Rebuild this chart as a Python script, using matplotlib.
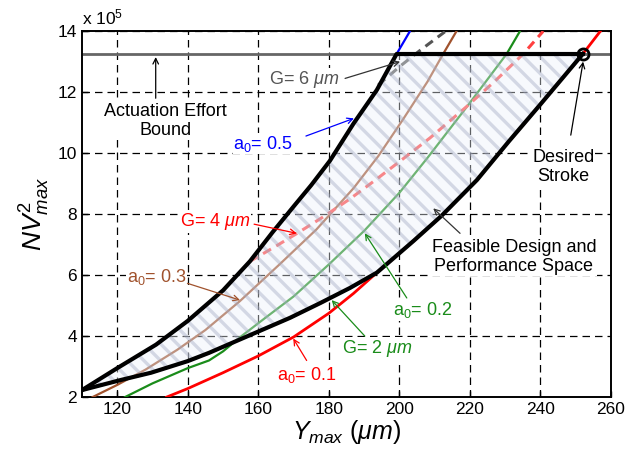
import numpy as np
import matplotlib
matplotlib.use("Agg")
import matplotlib.pyplot as plt
from matplotlib.patches import Polygon

plt.rcParams['font.family'] = ['Liberation Sans', 'DejaVu Sans']
plt.rcParams['mathtext.fontset'] = 'custom'
plt.rcParams['mathtext.rm'] = 'Liberation Sans'
plt.rcParams['mathtext.it'] = 'Liberation Sans:italic'
plt.rcParams['hatch.linewidth'] = 2.4

# ---- data (y values in units of 1e5) ----
a01_x = [134, 140, 150, 160, 170, 180, 187, 193.6, 204, 212, 222, 231, 240, 252, 257]
a01_y = [2.0, 2.28, 2.8, 3.35, 3.97, 4.75, 5.4, 6.08, 7.12, 7.95, 9.12, 10.38, 11.6, 13.25, 14.0]

a02_x = [122.2, 130, 140, 146, 150, 155, 162, 170, 180, 190, 200, 208, 219, 230.4, 234.2]
a02_y = [2.0, 2.45, 2.95, 3.2, 3.5, 3.98, 4.6, 5.3, 6.35, 7.45, 8.7, 9.85, 11.5, 13.25, 14.0]

a03_x = [113, 120, 128, 137, 145, 154.8, 166, 176.5, 187, 194, 201, 208, 212.4, 216.2]
a03_y = [2.0, 2.4, 2.9, 3.55, 4.2, 5.15, 6.35, 7.5, 8.85, 9.9, 11.1, 12.35, 13.25, 14.0]

a05_x = [110, 120, 131, 140, 150, 157.6, 164, 170, 175, 180.3, 187, 193.6, 199.2, 203]
a05_y = [2.23, 2.95, 3.72, 4.5, 5.5, 6.45, 7.4, 8.25, 8.95, 9.75, 10.97, 12.07, 13.25, 14.0]

g2_x = [110, 121, 129.6, 140, 146, 153, 160, 169, 177.5, 186, 193.6]
g2_y = [2.23, 2.56, 2.8, 3.18, 3.45, 3.8, 4.15, 4.6, 5.08, 5.58, 6.08]

g4_x = [157.6, 165, 171, 178.4, 186, 193, 200, 208.7, 219, 227, 235.1, 240.8]
g4_y = [6.45, 6.95, 7.37, 7.91, 8.5, 9.1, 9.72, 10.5, 11.52, 12.35, 13.25, 14.0]

g6_x = [194, 200.2, 206, 212.9]
g6_y = [12.23, 12.85, 13.38, 13.98]

effort_bound = 13.25
stroke_x = 252
x_ticks = [120, 140, 160, 180, 200, 220, 240, 260]
y_ticks = [2, 4, 6, 8, 10, 12, 14]

# ---- figure ----
fig = plt.figure(figsize=(6.26, 4.58), dpi=100)
ax = fig.add_axes([0.131, 0.133, 0.845, 0.799])

ax.set_xlim(110, 260)
ax.set_ylim(2, 14)
ax.set_xticks(x_ticks)
ax.set_yticks(y_ticks)
ax.tick_params(labelsize=12.5, direction='in', length=4, width=1)
ax.grid(True, color='k', linestyle=(0, (6, 4)), linewidth=0.9)
ax.set_axisbelow(True)
for s in ax.spines.values():
    s.set_linewidth(1.4)

ax.axhline(effort_bound, color='#666666', lw=2, zorder=2)

ax.plot(a01_x, a01_y, color='#ff0000', lw=2, zorder=3)
ax.plot(a02_x, a02_y, color='#1a8c1a', lw=1.6, zorder=3)
ax.plot(a03_x, a03_y, color='#a0522d', lw=1.6, zorder=3)
ax.plot(a05_x, a05_y, color='#0000ff', lw=1.6, zorder=3)
ax.plot(g2_x, g2_y, color='#1a8c1a', lw=2, ls=(0, (3, 2)), zorder=3)
ax.plot(g4_x, g4_y, color='#ff4040', lw=2.2, ls=(0, (3, 2)), zorder=3)
ax.plot(g6_x, g6_y, color='#555555', lw=2.2, ls=(0, (3, 2)), zorder=3)

# feasible region: upper = a0=0.5 up to bound, top = bound, lower = G=2 then a0=0.1
up_x = [x for x in a05_x if x <= 199.2]
up_y = a05_y[:len(up_x)]
lo_x = list(g2_x) + [x for x in a01_x if 193.6 < x <= stroke_x]
lo_y = list(g2_y) + [y for x, y in zip(a01_x, a01_y) if 193.6 < x <= stroke_x]
poly = list(zip(up_x, up_y)) + [(stroke_x, effort_bound)] + list(zip(lo_x[::-1], lo_y[::-1]))
ax.add_patch(Polygon(poly, closed=True, facecolor=(0.93, 0.95, 0.98, 0.4),
                     edgecolor=(0.62, 0.65, 0.75, 0.4), hatch='\\\\', lw=0, zorder=4))

ax.plot(up_x + [stroke_x], up_y + [effort_bound], color='k', lw=3, zorder=5)
ax.plot(lo_x, lo_y, color='k', lw=3, zorder=5)
ax.plot([stroke_x], [effort_bound], 'o', mfc='none', mec='k', mew=2, ms=8, zorder=6)

# ---- annotations ----
fs = 13
wbox = dict(facecolor='white', edgecolor='none', pad=0.5)


def label(x, y, txt, color, ha='left'):
    ax.text(x, y, txt, color=color, fontsize=fs, ha=ha, va='center', linespacing=1.15,
            bbox=wbox, zorder=7)


def arrow(xy, xytext, color):
    ax.annotate('', xy=xy, xytext=xytext,
                arrowprops=dict(arrowstyle='->', color=color, lw=0.9, shrinkA=0, shrinkB=0),
                zorder=7)


label(133.7, 11.05, 'Actuation Effort\nBound', 'k', ha='center')
arrow((130.9, 13.15), (130.9, 11.8), 'k')

label(163.1, 12.41, r'G= 6 $\mu m$', '#555555')
arrow((200.2, 13.0), (184.6, 12.45), '#333333')

label(152.9, 10.31, r'a$_0$= 0.5', '#0000ff')
arrow((187.1, 11.14), (173.5, 10.56), '#0000ff')

label(137.8, 7.75, r'G= 4 $\mu m$', '#ff0000')
arrow((170.9, 7.37), (158.8, 7.67), '#ff0000')

label(122.7, 5.94, r'a$_0$= 0.3', '#a0522d')
arrow((154.8, 5.18), (139.9, 5.73), '#a0522d')

label(165.4, 2.72, r'a$_0$= 0.1', '#ff0000')
arrow((169.9, 3.92), (173.7, 3.2), '#ff0000')

label(183.6, 3.6, r'G= 2 $\mu m$', '#1a8c1a')
arrow((180.8, 5.18), (190.2, 4.0), '#1a8c1a')

label(198.3, 4.85, r'a$_0$= 0.2', '#1a8c1a')
arrow((190.2, 7.37), (202.1, 5.25), '#1a8c1a')

label(232.5, 6.6, 'Feasible Design and\nPerformance Space', 'k', ha='center')
arrow((209.6, 8.19), (217.2, 7.37), '#333333')

label(246.5, 9.55, 'Desired\nStroke', 'k', ha='center')
arrow((252.1, 13.0), (248.6, 10.59), 'k')

ax.text(0.0, 1.01, r'x 10$^5$', transform=ax.transAxes, fontsize=12.5, va='bottom')

ax.set_xlabel(r'$Y_{max}$ $(\mu m)$', fontsize=18, labelpad=1)
ax.set_ylabel(r'$NV^2_{max}$', fontsize=19, labelpad=4)

fig.savefig('out.png', dpi=100)
